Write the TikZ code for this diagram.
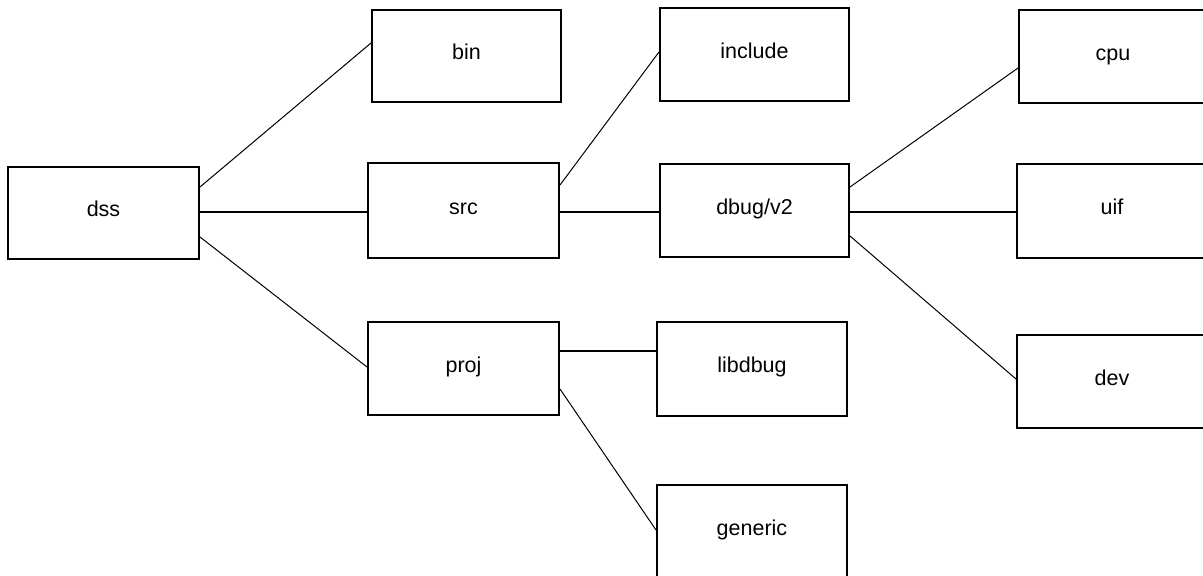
\documentclass[tikz,border=0pt]{standalone}
\usepackage{fontspec}
\setmainfont{Liberation Sans}
\begin{document}
\begin{tikzpicture}[x=1pt,y=-1pt,
  box/.style={draw, line width=2pt, inner sep=0pt, text height=0.8em, text depth=0.1em,
    font=\fontsize{21.5}{25}\selectfont},
  hline/.style={line width=2pt},
  dline/.style={line width=1pt}]
\useasboundingbox (0,0) rectangle (1203,576);
\clip (0,0) rectangle (1203,576);
\node[box, minimum width=191pt, minimum height=92pt] (dss) at (103.5,213) {dss};
\node[box, minimum width=189pt, minimum height=92pt] (bin) at (466.5,56) {bin};
\node[box, minimum width=191pt, minimum height=95pt] (src) at (463.5,210.5) {src};
\node[box, minimum width=191pt, minimum height=93pt] (proj) at (463.5,368.5) {proj};
\node[box, minimum width=189pt, minimum height=93pt] (include) at (754.5,54.5) {include};
\node[box, minimum width=189pt, minimum height=93pt] (dbug) at (754.5,210.5) {dbug/v2};
\node[box, minimum width=190pt, minimum height=94pt] (libdbug) at (752,369) {libdbug};
\node[box, minimum width=190pt, minimum height=94pt] (generic) at (752,532) {generic};
\node[box, minimum width=188pt, minimum height=93pt] (cpu) at (1113,56.5) {cpu};
\node[box, minimum width=190pt, minimum height=94pt] (uif) at (1112,211) {uif};
\node[box, minimum width=190pt, minimum height=93pt] (dev) at (1112,381.5) {dev};
% connectors
\draw[dline] ([yshift=26pt]dss.east) -- ([yshift=13pt]bin.west);
\draw[hline] ([yshift=1pt]dss.east) -- ([yshift=1pt]dss.east -| src.west);
\draw[dline] ([yshift=-24pt]dss.east) -- ([yshift=1.5pt]proj.west);
\draw[dline] ([yshift=25.5pt]src.east) -- ([yshift=2.5pt]include.west);
\draw[hline] ([yshift=-1.5pt]src.east) -- ([yshift=-1.5pt]src.east -| dbug.west);
\draw[dline] ([yshift=23.5pt]dbug.east) -- ([yshift=-11.5pt]cpu.west);
\draw[hline] ([yshift=-1.5pt]dbug.east) -- ([yshift=-1.5pt]dbug.east -| uif.west);
\draw[dline] ([yshift=-25.5pt]dbug.east) -- ([yshift=2.5pt]dev.west);
\draw[hline] ([yshift=17.5pt]proj.east) -- ([yshift=17.5pt]proj.east -| libdbug.west);
\draw[dline] ([yshift=-20.5pt]proj.east) -- ([yshift=2pt]generic.west);
\end{tikzpicture}
\end{document}
